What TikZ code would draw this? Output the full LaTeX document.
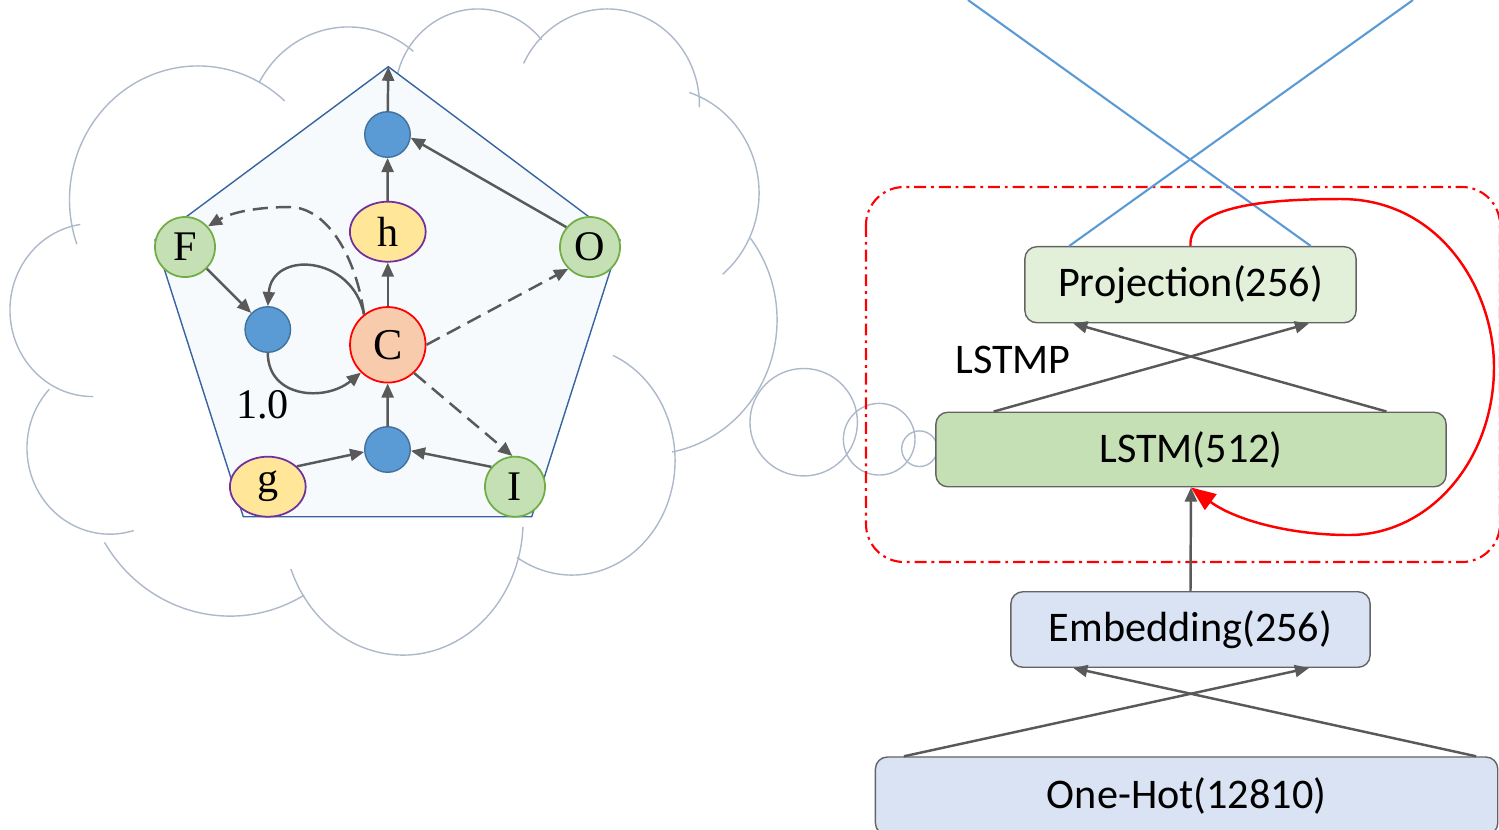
\documentclass[tikz,border=0pt]{standalone}
\usepackage{fontspec}
\setmainfont{Liberation Serif}
\newfontfamily\carlito{Carlito}
\usetikzlibrary{arrows.meta,shapes.geometric}
\definecolor{cloudc}{RGB}{173,185,202}
\definecolor{arrc}{RGB}{89,89,89}
\definecolor{dotfill}{RGB}{91,155,213}
\definecolor{dotline}{RGB}{65,113,156}
\definecolor{gatefill}{RGB}{197,224,180}
\definecolor{gateline}{RGB}{112,173,71}
\definecolor{yelfill}{RGB}{255,230,153}
\definecolor{yelline}{RGB}{112,48,160}
\definecolor{cfill}{RGB}{248,203,173}
\definecolor{pentfill}{RGB}{246,250,252}
\definecolor{pentline}{RGB}{55,100,160}
\definecolor{projfill}{RGB}{226,240,217}
\definecolor{lstmfill}{RGB}{197,224,180}
\definecolor{embfill}{RGB}{218,227,243}
\definecolor{boxline}{RGB}{100,100,100}
\definecolor{bluel}{RGB}{91,155,213}
\newcommand\cloudbump[6]{%
  \draw[cloudline] ([shift={(#1,#2)}]-#5:#3cm and #4cm) arc[start angle=-#5, end angle=-#6, x radius=#3cm, y radius=#4cm];}
\tikzset{
  cloudline/.style={draw=cloudc, line width=0.4pt},
  arr/.style={draw=arrc, line width=0.7pt, -{Triangle[length=4pt,width=3.4pt]}},
  darr/.style={arr, dash pattern=on 4.3pt off 2.3pt},
  redarr/.style={draw=red, line width=0.7pt, -{Triangle[length=7pt,width=5.5pt]}},
  blueline/.style={draw=bluel, line width=0.6pt},
  redbox/.style={draw=red, line width=0.6pt, dash pattern=on 3.4pt off 1.4pt on 0.8pt off 1.4pt, rounded corners=0.38cm},
  pent/.style={draw=pentline, fill=pentfill, line width=0.4pt},
  letter/.style={font=\fontsize{12}{14}\selectfont},
  dot/.style={circle, fill=dotfill, draw=dotline, line width=0.4pt, minimum size=0.455cm, inner sep=0pt},
  gate/.style={circle, fill=gatefill, draw=gateline, line width=0.5pt, minimum size=0.6cm, inner sep=0pt, letter},
  yel/.style={ellipse, fill=yelfill, draw=yelline, line width=0.5pt, minimum width=0.757cm, minimum height=0.6cm, inner sep=0pt, letter},
  cell/.style={circle, fill=cfill, draw=red, line width=0.5pt, minimum size=0.755cm, inner sep=0pt, font=\fontsize{12.5}{14}\selectfont},
  layer/.style={draw=boxline, line width=0.4pt, rounded corners=0.12cm, inner sep=0pt, font=\carlito\fontsize{12}{14}\selectfont},
}
\begin{document}
\begin{tikzpicture}[x=0.01cm,y=-0.01cm]
\useasboundingbox (0,0) rectangle (1499,829);
\clip (0,0) rectangle (1499,829);
% cloud
\cloudbump{198}{199.7}{1.284}{1.337}{160.6}{312.4}
\cloudbump{348.5}{132.7}{1.014}{1.057}{208.0}{309.7}
\cloudbump{478}{95.5}{0.830}{0.865}{193.3}{320}
\cloudbump{607}{105}{0.924}{0.960}{205.7}{361.2}
\cloudbump{657.6}{193}{1.014}{1.058}{288.2}{410.1}
\cloudbump{648.2}{320}{1.288}{1.342}{322.5}{439.3}
\cloudbump{572}{460.5}{1.03}{1.145}{293.4}{482.3}
\cloudbump{403}{520.9}{1.20}{1.341}{2.6}{159}
\cloudbump{230}{462.6}{1.468}{1.534}{59.7}{148.7}
\cloudbump{109.9}{448}{0.829}{0.861}{73.3}{223}
\cloudbump{92.6}{310}{0.826}{0.865}{89.7}{261.4}
% thought bubbles
\draw[cloudline] (803.7,422.2) circle[radius=0.537cm];
\draw[cloudline] (879.2,439.2) circle[radius=0.358cm];
\draw[cloudline] (919.5,448.7) circle[radius=0.178cm];
% pentagon
\draw[pent] (388.3,66.7) -- (620,240) -- (531.7,516.7) -- (243.3,516.7) -- (155,240) -- cycle;
\coordinate (ptop) at (388.3,66.7);
% LSTM cell nodes
\node[dot] (dtop) at (387.5,134.5) {};
\node[yel] (h) at (387.8,231.7) {h};
\node[gate] (F) at (185,247) {F};
\node[gate] (O) at (590,247) {O};
\node[dot] (dl) at (267.8,329.5) {};
\node[cell] (C) at (387.8,344.8) {C};
\node[dot] (db) at (387.5,449.5) {};
\node[yel] (g) at (267.8,486.7) {g};
\node[gate] (I) at (515,486.7) {I};
\node[anchor=base, letter, inner sep=0pt] (one) at (262.5,418.3) {1.0};
% cell edges
\draw[arr] (dtop) -- (ptop);
\draw[arr] (h) -- (dtop);
\draw[arr] (C) -- (h);
\draw[arr] (db) -- (C);
\draw[arr] (g.35) -- (db.186);
\draw[arr] (I.140) -- (db.-3);
\draw[arr] (O.140) -- (dtop.-8);
\draw[arr] (F) -- (dl);
\draw[arr] (dl.south) .. controls (268,398) and (325,402) .. (C.226);
\draw[arr] (C.128) .. controls (352,255) and (272,250) .. (dl.north);
\draw[darr] (C.128) .. controls (357,262) and (330,208) .. (290,207) .. controls (258,207) and (232,212) .. (F.42);
\draw[darr] (C.east) -- (O.225);
\draw[darr] (C.-47) -- (I.95);
% right side
\draw[redbox] (866,187) rectangle (1500,562);
\node[layer, fill=projfill, minimum width=3.31cm, minimum height=0.76cm] (proj) at (1190.5,284.7) {Projection(256)};
\node[layer, fill=lstmfill, minimum width=5.10cm, minimum height=0.745cm] (lstm) at (1191,449.5) {LSTM(512)};
\node[layer, fill=embfill, minimum width=3.59cm, minimum height=0.755cm] (emb) at (1190.5,629.5) {Embedding(256)};
\node[layer, fill=embfill, minimum width=6.22cm, minimum height=0.78cm] (oh) at (1186.6,796) {One-Hot(12810)};
\node[font=\carlito\fontsize{12}{14}\selectfont, inner sep=0pt] (lstmp) at (1013,359.7) {LSTMP};
\coordinate (bl1) at (968,0);
\coordinate (bl2) at (1413,0);
\draw[blueline] ([xshift=-0.46cm]proj.north east) -- (bl1);
\draw[blueline] ([xshift=0.45cm]proj.north west) -- (bl2);
\draw[arr] ([xshift=0.585cm]lstm.north west) -- ([xshift=-0.478cm]proj.south east);
\draw[arr] ([xshift=-0.603cm]lstm.north east) -- ([xshift=0.49cm]proj.south west);
\draw[arr] ([xshift=0.292cm]oh.north west) -- ([xshift=-0.618cm]emb.south east);
\draw[arr] ([xshift=-0.223cm]oh.north east) -- ([xshift=0.631cm]emb.south west);
\draw[arr] (emb.north) -- (lstm.south);
\draw[redarr] (proj.north) .. controls (1188,205) and (1270,199) .. (1341,199) .. controls (1440,199) and (1494,290) .. (1494,367) .. controls (1494,460) and (1430,535) .. (1349,535) .. controls (1290,535) and (1235,520) .. (lstm.south);
\end{tikzpicture}
\end{document}
